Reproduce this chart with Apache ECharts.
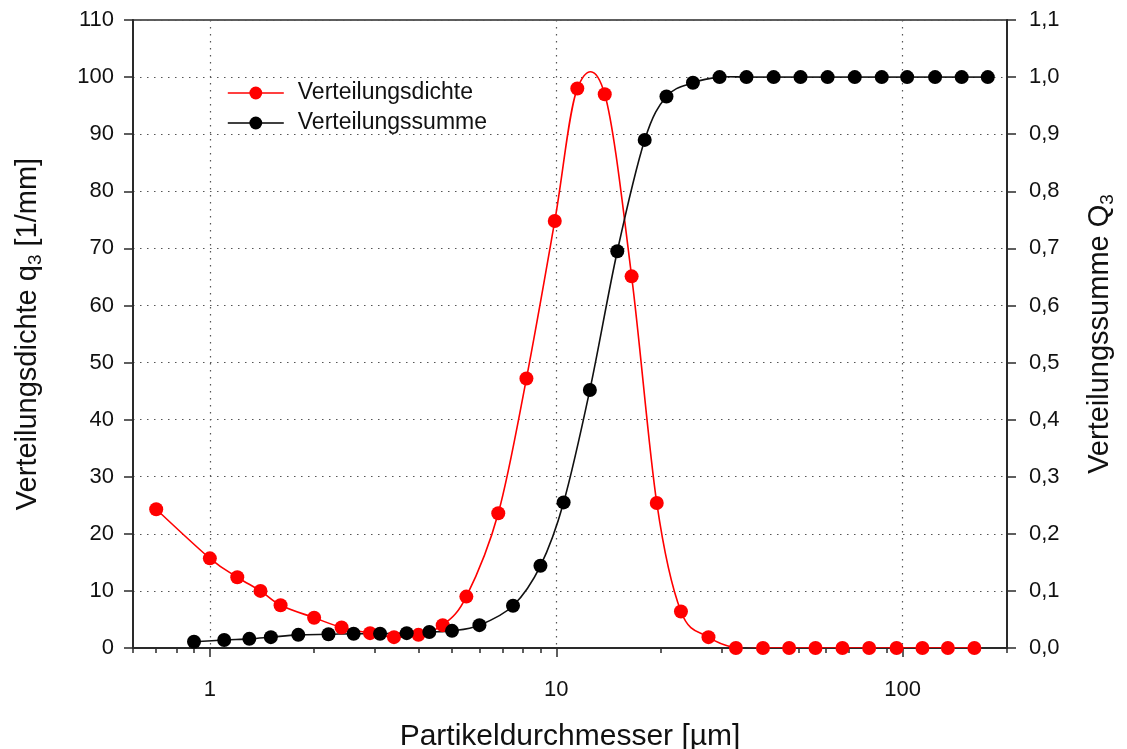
<!DOCTYPE html>
<html>
<head>
<meta charset="utf-8">
<script src="https://cdn.jsdelivr.net/npm/echarts@6/dist/echarts.min.js"></script>
<style>
  html, body { margin: 0; padding: 0; background: #ffffff; }
  #chart { width: 1127px; height: 749px; }
</style>
</head>
<body>
<div id="chart"></div>
<script>
// Particle size distribution: density q3 (left axis) and cumulative Q3 (right axis)
const DENSITY_X = [0.7, 1.0, 1.2, 1.4, 1.6, 2.0, 2.4, 2.9, 3.4, 4.0, 4.7, 5.5, 6.8, 8.2, 9.9,
  11.5, 13.8, 16.5, 19.5, 22.9, 27.5, 33, 39.5, 47, 56, 67, 80, 96, 114, 135, 161];
const DENSITY_Q3 = [24.3, 15.7, 12.4, 10.0, 7.5, 5.3, 3.6, 2.6, 1.9, 2.3, 4.0, 9.0, 23.6, 47.2, 74.8,
  98.0, 97.0, 65.1, 25.4, 6.4, 1.9, 0, 0, 0, 0, 0, 0, 0, 0, 0, 0];

const SUM_X = [0.9, 1.1, 1.3, 1.5, 1.8, 2.2, 2.6, 3.1, 3.7, 4.3, 5.0, 6.0, 7.5, 9.0, 10.5,
  12.5, 15.0, 18.0, 20.8, 24.8, 29.6, 35.4, 42.4, 50.7, 60.7, 72.7, 87, 103, 124, 148, 176];
const SUM_Q3 = [0.011, 0.014, 0.016, 0.019, 0.023, 0.024, 0.025, 0.025, 0.026, 0.028, 0.030, 0.040, 0.074, 0.144, 0.255,
  0.452, 0.695, 0.890, 0.966, 0.990, 1, 1, 1, 1, 1, 1, 1, 1, 1, 1, 1];

const X_MAJOR_TICKS = [1, 10, 100];
const X_MINOR_TICKS = [0.6, 0.7, 0.8, 0.9, 2, 3, 4, 5, 6, 7, 8, 9, 20, 30, 40, 50, 60, 70, 80, 90, 200];

const SERIES_NAMES = ['Verteilungsdichte', 'Verteilungssumme'];
const SERIES_COLORS = ['#ff0000', '#000000'];

const FONT = '"Liberation Sans", Arial, Helvetica, sans-serif';
const AXIS_COLOR = '#2a2a2a';
const TEXT_COLOR = '#111111';
const LINE_WIDTH = 1.6;
const GRID_LINE = { show: true, lineStyle: { color: '#555555', width: 1.2, type: [1.5, 5.5] } };

const titleRich = {
  a: { fontSize: 29, lineHeight: 34, fontFamily: FONT, color: TEXT_COLOR },
  s: { fontSize: 19, lineHeight: 19, verticalAlign: 'bottom', fontFamily: FONT, color: TEXT_COLOR }
};

const pairs = (xs, ys) => xs.map((x, i) => [x, ys[i]]);

// Cubic (Catmull-Rom) curve through the data points, placed with the axes' own scales.
function splineRenderer(xs, ys, color) {
  return function (params, api) {
    if (params.dataIndex !== 0) return null;
    const pts = xs.map((x, i) => api.coord([x, ys[i]]));
    const children = [];
    for (let i = 0; i < pts.length - 1; i++) {
      const p0 = pts[i - 1] || pts[i];
      const p1 = pts[i];
      const p2 = pts[i + 1];
      const p3 = pts[i + 2] || pts[i + 1];
      children.push({
        type: 'bezierCurve',
        shape: {
          x1: p1[0], y1: p1[1],
          cpx1: p1[0] + (p2[0] - p0[0]) / 6, cpy1: p1[1] + (p2[1] - p0[1]) / 6,
          cpx2: p2[0] - (p3[0] - p1[0]) / 6, cpy2: p2[1] - (p3[1] - p1[1]) / 6,
          x2: p2[0], y2: p2[1]
        },
        style: { stroke: color, lineWidth: LINE_WIDTH, fill: 'none' }
      });
    }
    return { type: 'group', children: children };
  };
}

const chart = echarts.init(document.getElementById('chart'), null, { renderer: 'canvas' });

chart.setOption({
  animation: false,
  backgroundColor: '#ffffff',
  textStyle: { fontFamily: FONT },
  grid: {
    left: 133, right: 120, top: 20, bottom: 101,
    containLabel: false,
    outerBoundsMode: 'none',
    show: true, borderColor: AXIS_COLOR, borderWidth: 1.5, backgroundColor: 'transparent'
  },
  legend: {
    orient: 'vertical',
    left: 222, top: 76,
    itemWidth: 56, itemHeight: 16, itemGap: 6,
    selectedMode: false,
    data: SERIES_NAMES,
    lineStyle: { width: LINE_WIDTH, opacity: 1 },
    textStyle: { fontSize: 23, lineHeight: 24, color: TEXT_COLOR, fontFamily: FONT, padding: [0, 0, 0, 9] }
  },
  xAxis: [
    {
      type: 'log', logBase: 10, min: 0.6, max: 200,
      position: 'bottom',
      name: 'Partikeldurchmesser [µm]',
      nameLocation: 'middle', nameGap: 74,
      nameTextStyle: { fontSize: 30, color: TEXT_COLOR, fontFamily: FONT },
      axisLine: { show: true, onZero: false, lineStyle: { color: AXIS_COLOR, width: 2 } },
      axisTick: { show: true, length: 9, customValues: X_MAJOR_TICKS, lineStyle: { color: AXIS_COLOR, width: 1.5 } },
      axisLabel: { show: true, customValues: X_MAJOR_TICKS, margin: 31, fontSize: 22, color: TEXT_COLOR, fontFamily: FONT },
      splitLine: GRID_LINE
    },
    {
      type: 'log', logBase: 10, min: 0.6, max: 200,
      position: 'bottom', offset: 0,
      axisLine: { show: false },
      axisTick: { show: true, length: 5, customValues: X_MINOR_TICKS, lineStyle: { color: AXIS_COLOR, width: 1.5 } },
      axisLabel: { show: false },
      splitLine: { show: false }
    }
  ],
  yAxis: [
    {
      type: 'value', min: 0, max: 110, interval: 10,
      position: 'left',
      name: '{a|Verteilungsdichte q}{s|3}{a| [1/mm]}',
      nameLocation: 'middle', nameRotate: 90, nameGap: 88,
      nameTextStyle: { rich: titleRich },
      axisLine: { show: true, lineStyle: { color: AXIS_COLOR, width: 2 } },
      axisTick: { show: true, length: 9, lineStyle: { color: AXIS_COLOR, width: 1.5 } },
      axisLabel: { margin: 19, fontSize: 22, color: TEXT_COLOR, fontFamily: FONT },
      splitLine: GRID_LINE
    },
    {
      type: 'value', min: 0, max: 1.1, interval: 0.1,
      position: 'right',
      name: '{a|Verteilungssumme Q}{s|3}',
      nameLocation: 'middle', nameRotate: 90, nameGap: 76,
      nameTextStyle: { rich: titleRich },
      axisLine: { show: true, lineStyle: { color: AXIS_COLOR, width: 2 } },
      axisTick: { show: true, length: 9, lineStyle: { color: AXIS_COLOR, width: 1.5 } },
      axisLabel: {
        margin: 22, fontSize: 22, color: TEXT_COLOR, fontFamily: FONT,
        formatter: v => v.toFixed(1).replace('.', ',')
      },
      splitLine: { show: false }
    }
  ],
  series: [
    {
      name: SERIES_NAMES[0],
      type: 'line',
      xAxisIndex: 0, yAxisIndex: 0,
      data: pairs(DENSITY_X, DENSITY_Q3),
      symbol: 'circle', symbolSize: 14, showAllSymbol: true,
      itemStyle: { color: SERIES_COLORS[0] },
      lineStyle: { color: SERIES_COLORS[0], width: LINE_WIDTH, opacity: 0 },
      z: 3
    },
    {
      name: SERIES_NAMES[1],
      type: 'line',
      xAxisIndex: 0, yAxisIndex: 1,
      data: pairs(SUM_X, SUM_Q3),
      symbol: 'circle', symbolSize: 14, showAllSymbol: true,
      itemStyle: { color: SERIES_COLORS[1] },
      lineStyle: { color: SERIES_COLORS[1], width: LINE_WIDTH, opacity: 0 },
      z: 4
    },
    {
      name: 'q3 curve',
      type: 'custom',
      coordinateSystem: 'cartesian2d',
      xAxisIndex: 0, yAxisIndex: 0,
      data: pairs(DENSITY_X, DENSITY_Q3),
      encode: { x: 0, y: 1 },
      renderItem: splineRenderer(DENSITY_X, DENSITY_Q3, SERIES_COLORS[0]),
      clip: true,
      silent: true,
      z: 2
    },
    {
      name: 'Q3 curve',
      type: 'custom',
      coordinateSystem: 'cartesian2d',
      xAxisIndex: 0, yAxisIndex: 1,
      data: pairs(SUM_X, SUM_Q3),
      encode: { x: 0, y: 1 },
      renderItem: splineRenderer(SUM_X, SUM_Q3, '#111111'),
      clip: true,
      silent: true,
      z: 2
    }
  ]
});
</script>
</body>
</html>
